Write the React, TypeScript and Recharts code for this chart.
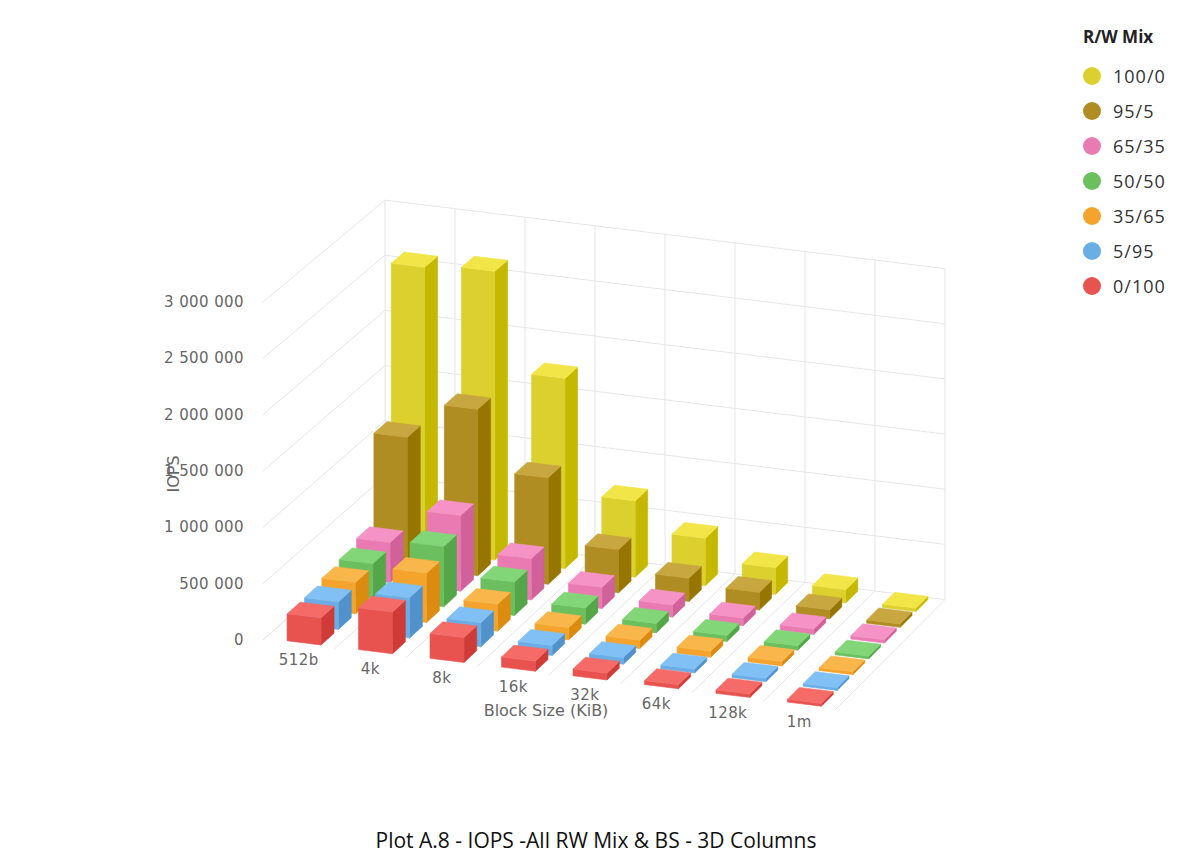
import React from "react";
import { BarChart, Bar, XAxis, YAxis, CartesianGrid, Legend } from "recharts";

// categories and series (IOPS)
const blockSizes = ["512b", "4k", "8k", "16k", "32k", "64k", "128k", "1m"];
const mixNames = ["100/0", "95/5", "65/35", "50/50", "35/65", "5/95", "0/100"];
const iops100_0 = [2570000, 2610000, 1720000, 690000, 430000, 240000, 120000, 30000];
const iops95_5 = [1170000, 1500000, 960000, 390000, 210000, 160000, 80000, 30000];
const iops65_35 = [360000, 680000, 370000, 190000, 110000, 70000, 50000, 30000];
const iops50_50 = [310000, 540000, 300000, 145000, 85000, 55000, 40000, 25000];
const iops35_65 = [280000, 440000, 240000, 110000, 75000, 55000, 40000, 25000];
const iops5_95 = [245000, 360000, 215000, 90000, 60000, 35000, 30000, 25000];
const iops0_100 = [240000, 370000, 220000, 90000, 60000, 35000, 30000, 25000];
const yTicks = [0, 500000, 1000000, 1500000, 2000000, 2500000, 3000000];

const seriesValues = [iops100_0, iops95_5, iops65_35, iops50_50, iops35_65, iops5_95, iops0_100];
// [legend/front, top, side]
const seriesColors = [
  ["#DCD02E", "#F2E547", "#C4B800"],
  ["#B08D22", "#C8A640", "#967500"],
  ["#E97BB2", "#F592C6", "#D0619A"],
  ["#6CBF5F", "#82D677", "#54A648"],
  ["#F4A42D", "#F9B64A", "#DB8C10"],
  ["#6BAEE6", "#80C0F4", "#5192CC"],
  ["#E8524F", "#F46B68", "#CF3B37"],
];

const data = blockSizes.map((bs, i) => {
  const row: any = { bs };
  mixNames.forEach((m, s) => (row[m] = seriesValues[s][i]));
  return row;
});

// front plane of the 3D box, in page pixels
const W = 1192;
const H = 855;
const PLOT = { left: 263, top: 302, width: 572, height: 338 };
const DEPTH_X = 122;
const DEPTH_Y = -109;
const SLOPE = 70 / 572;
const SHRINK = 0.021;
const ROWS = 7;
const BAR_U = 34 / 572;
const BAR_Z = 0.75 / ROWS;
const U_SHIFT = 4 / 572;

const tickFont = "'DejaVu Sans', sans-serif";

function project(u: number, z: number, h: number) {
  const s = 1 - SHRINK * z;
  const w = PLOT.width * s;
  const x = PLOT.left + DEPTH_X * z + u * w;
  const y = PLOT.top + PLOT.height + DEPTH_Y * z + u * w * SLOPE - h * s;
  return [x, y];
}

const pts = (list: number[][]) => list.map((p) => `${p[0]},${p[1]}`).join(" ");

// draws a column as a box, using the flat bar Recharts computed
const makeShape = (group: number) => (props: any) => {
  const { x, width, height } = props;
  const row = ROWS - 1 - group;
  const colors = seriesColors[group];
  const center = x + width / 2 + (3 - group) * width;
  const uc = (center - PLOT.left) / PLOT.width + U_SHIFT;
  const u0 = uc - BAR_U / 2;
  const u1 = uc + BAR_U / 2;
  const z0 = (row + 0.12) / ROWS;
  const z1 = z0 + BAR_Z;
  const h = Math.max(height, 0);
  const fbl = project(u0, z0, 0);
  const fbr = project(u1, z0, 0);
  const ftr = project(u1, z0, h);
  const ftl = project(u0, z0, h);
  const bbr = project(u1, z1, 0);
  const btr = project(u1, z1, h);
  const btl = project(u0, z1, h);
  return (
    <g>
      <polygon points={pts([fbr, bbr, btr, ftr])} fill={colors[2]} stroke={colors[2]} strokeWidth={0.6} />
      <polygon points={pts([fbl, fbr, ftr, ftl])} fill={colors[0]} stroke={colors[0]} strokeWidth={0.6} />
      <polygon points={pts([ftl, ftr, btr, btl])} fill={colors[1]} stroke={colors[1]} strokeWidth={0.6} />
    </g>
  );
};

const gridColor = "#e6e6e6";

const renderHorizontal = (props: any) => {
  const h = PLOT.top + PLOT.height - props.y1;
  const a = project(0, 0, h);
  const b = project(0, 1, h);
  const c = project(1, 1, h);
  return (
    <g key={`h-${props.index}`}>
      <line x1={a[0]} y1={a[1]} x2={b[0]} y2={b[1]} stroke={gridColor} />
      <line x1={b[0]} y1={b[1]} x2={c[0]} y2={c[1]} stroke={gridColor} />
    </g>
  );
};

// grid comes at category centres; walls and floor need the category edges
const renderVertical = (props: any) => {
  const bw = PLOT.width / blockSizes.length;
  const pos = (props.x1 - PLOT.left) / bw - 0.5;
  const idx = Math.round(pos);
  if (Math.abs(pos - idx) > 0.1 || idx < 0 || idx > blockSizes.length - 1) return <g key={`v-${props.index}`} />;
  const us = [idx / blockSizes.length];
  if (idx === blockSizes.length - 1) us.push(1);
  return (
    <g key={`v-${props.index}`}>
      {us.map((u, i) => {
        const f = project(u, 0, 0);
        const b = project(u, 1, 0);
        const t = project(u, 1, PLOT.height);
        return (
          <g key={i}>
            <line x1={f[0]} y1={f[1]} x2={b[0]} y2={b[1]} stroke={gridColor} />
            <line x1={b[0]} y1={b[1]} x2={t[0]} y2={t[1]} stroke={gridColor} />
          </g>
        );
      })}
    </g>
  );
};

const fmt = (v: number) => String(v).replace(/\B(?=(\d{3})+(?!\d))/g, " ");

const XTick = (props: any) => {
  const { x, payload } = props;
  const [, py] = project((x - PLOT.left) / PLOT.width, 0, 0);
  return (
    <text x={x} y={py + 21} textAnchor="middle" fill="#666" fontSize={15} letterSpacing={0.4} fontFamily={tickFont}>
      {payload.value}
    </text>
  );
};

const YTick = (props: any) => {
  const { y, payload } = props;
  return (
    <text x={PLOT.left - 19} y={y + 5} textAnchor="end" fill="#666" fontSize={15} letterSpacing={0.4} fontFamily={tickFont}>
      {fmt(payload.value)}
    </text>
  );
};

const xTitle = () => {
  const [px, py] = project(0.5, 0, 0);
  return (
    <text x={px - 3} y={py + 41} textAnchor="middle" fill="#666" fontSize={16} fontFamily={tickFont}>
      Block Size (KiB)
    </text>
  );
};

const yTitle = () => (
  <text x={173} y={474} transform="rotate(-90, 173, 474)" textAnchor="middle" dominantBaseline="central" fill="#666" fontSize={16} fontFamily={tickFont}>
    IOPS
  </text>
);

const renderLegend = (props: any) => {
  const items = [...(props.payload || [])].sort(
    (a: any, b: any) => mixNames.indexOf(a.value) - mixNames.indexOf(b.value)
  );
  return (
    <div style={{ fontFamily: "'Open Sans', sans-serif" }}>
      <div style={{ fontWeight: 700, fontSize: 17, color: "#222", height: 24, marginTop: 3, marginBottom: 9 }}>R/W Mix</div>
      {items.map((e: any) => (
        <div key={e.value} style={{ display: "flex", alignItems: "center", height: 35 }}>
          <span style={{ width: 18, height: 18, borderRadius: "50%", background: e.color, marginRight: 12 }} />
          <span style={{ fontSize: 18, letterSpacing: 1, color: "#333" }}>{e.value}</span>
        </div>
      ))}
    </div>
  );
};

export default function App() {
  return (
    <div style={{ position: "absolute", left: 0, top: 0, width: W, height: H, background: "#fff" }}>
      <BarChart
        width={W}
        height={H}
        data={data}
        barGap={0}
        barCategoryGap={0}
        margin={{ top: PLOT.top, right: W - PLOT.left - PLOT.width, bottom: H - PLOT.top - PLOT.height - 30, left: PLOT.left - 60 }}
      >
        <CartesianGrid horizontal={renderHorizontal} vertical={renderVertical} />
        <XAxis dataKey="bs" height={30} axisLine={false} tickLine={false} tick={XTick} interval={0} label={xTitle} />
        <YAxis
          width={60}
          domain={[0, 3000000]}
          ticks={yTicks}
          axisLine={false}
          tickLine={false}
          tick={YTick}
          label={yTitle}
        />
        <Legend
          layout="vertical"
          align="center"
          verticalAlign="middle"
          content={renderLegend}
          wrapperStyle={{ left: 1083, top: 22, width: 110 }}
        />
        {mixNames.map((m, g) => (
          <Bar key={m} dataKey={m} name={m} fill={seriesColors[g][0]} isAnimationActive={false} shape={makeShape(g)} />
        ))}
      </BarChart>
      <div
        style={{
          position: "absolute",
          left: 0,
          top: 826,
          width: W,
          textAlign: "center",
          fontFamily: "'Open Sans', sans-serif",
          fontSize: 21,
          color: "#111",
        }}
      >
        Plot A.8 - IOPS -All RW Mix &amp; BS - 3D Columns
      </div>
    </div>
  );
}
